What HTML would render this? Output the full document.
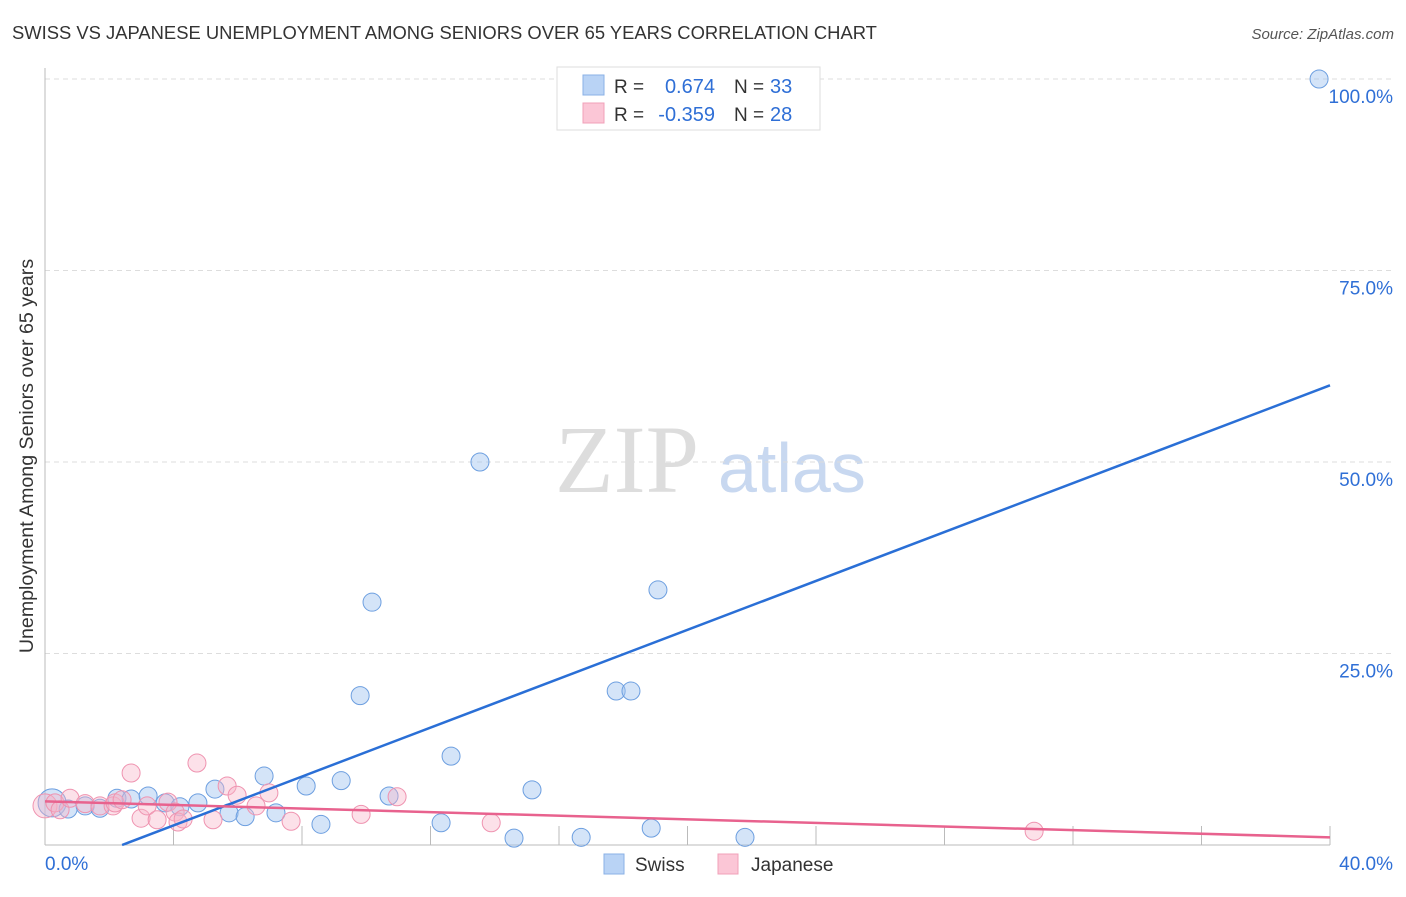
<!DOCTYPE html>
<html><head><meta charset="utf-8"><style>
body{margin:0;background:#fff;width:1406px;height:892px;overflow:hidden;font-family:"Liberation Sans",sans-serif;}
</style></head><body>
<svg id="chart" width="1406" height="892" xmlns="http://www.w3.org/2000/svg">
<text x="12" y="39" font-size="18.4" fill="#333">SWISS VS JAPANESE UNEMPLOYMENT AMONG SENIORS OVER 65 YEARS CORRELATION CHART</text>
<text x="1394" y="39" font-size="15" fill="#555" font-style="italic" text-anchor="end">Source: ZipAtlas.com</text>
<text transform="translate(33,456) rotate(-90)" font-size="19.6" fill="#333" text-anchor="middle">Unemployment Among Seniors over 65 years</text>
<text x="555" y="492" font-size="96" fill="#ddd" font-family="Liberation Serif,serif">ZIP</text>
<text x="718" y="492" font-size="70" fill="#c8d8f0">atlas</text>
<g id="grid"></g><g id="axes"></g><g id="pts"></g><g id="trends"></g>
<g>
<rect x="557" y="67" width="263" height="63" fill="#fff" stroke="#ddd"/>
<rect x="583" y="75" width="21" height="20" fill="#b9d3f5" stroke="#8ab0e6"/>
<rect x="583" y="103" width="21" height="20" fill="#fbc6d6" stroke="#f0a0b8"/>
<text x="614" y="93" font-size="19" fill="#333">R =</text><text x="715" y="93" font-size="20" fill="#2f6fd6" text-anchor="end">0.674</text>
<text x="734" y="93" font-size="19" fill="#333">N =</text><text x="770" y="93" font-size="20" fill="#2f6fd6">33</text>
<text x="614" y="121" font-size="19" fill="#333">R =</text><text x="715" y="121" font-size="20" fill="#2f6fd6" text-anchor="end">-0.359</text>
<text x="734" y="121" font-size="19" fill="#333">N =</text><text x="770" y="121" font-size="20" fill="#2f6fd6">28</text>
</g>
<g>
<rect x="604" y="854" width="20" height="20" fill="#b9d3f5" stroke="#8ab0e6"/>
<text x="635" y="871" font-size="19" fill="#333">Swiss</text>
<rect x="718" y="854" width="20" height="20" fill="#fbc6d6" stroke="#f0a0b8"/>
<text x="751" y="871" font-size="19" fill="#333">Japanese</text>
</g>
</svg>
<script>
const swissX=[0.22,0.72,1.25,1.71,2.24,2.68,3.21,3.74,4.20,4.76,5.29,5.73,6.23,6.82,7.19,8.13,8.59,9.22,9.81,10.18,10.71,12.33,12.64,13.54,14.60,15.16,16.69,17.78,18.24,18.87,19.08,21.79,39.66];
const swissY=[5.5,4.7,5.1,4.8,6.1,6.0,6.4,5.5,5.0,5.5,7.3,4.2,3.7,9.0,4.2,7.7,2.7,8.4,19.5,31.7,6.4,2.9,11.6,50.0,0.9,7.2,1.0,20.1,20.1,2.2,33.3,1.0,100];
const japX=[0,0.31,0.47,0.78,1.25,1.71,2.12,2.18,2.40,2.68,2.99,3.18,3.49,3.83,4.05,4.14,4.30,4.73,5.23,5.67,5.98,6.57,6.97,7.66,9.84,10.96,13.89,30.79];
const japY=[5.1,5.5,4.6,6.1,5.4,5.1,5.1,5.5,5.9,9.4,3.5,5.1,3.3,5.6,4.3,3.0,3.4,10.7,3.3,7.7,6.5,5.1,6.8,3.1,4.0,6.3,2.9,1.8];
const yTicks=[25,50,75,100];
const xTickLabels=["0.0%","40.0%"];
const swissTrend=[-3.83,1.596];
const japTrend=[5.7,-0.1175];
const NS='http://www.w3.org/2000/svg';
const X0=45,X1=1330,Y0=845,Y100=79;
const sx=v=>X0+(X1-X0)*v/40, sy=v=>Y0-(Y0-Y100)*v/100;
function mk(t,a,p){const e=document.createElementNS(NS,t);for(const k in a)e.setAttribute(k,a[k]);document.getElementById(p).appendChild(e);return e;}
yTicks.forEach(t=>{
 const l=mk('line',{x1:X0,x2:1394,y1:sy(t),y2:sy(t),stroke:'#ddd','stroke-dasharray':'5,4'},'grid');
 
 
 const tx=mk('text',{x:1393,y:sy(t)+24,'font-size':19,fill:'#2f6fd6','text-anchor':'end'},'grid');
 tx.textContent=t.toFixed(1)+'%';
 
 
});
let a=mk('line',{x1:X0,x2:X0,y1:68,y2:Y0,stroke:'#bbb'},'axes');


a=mk('line',{x1:X0,x2:X1,y1:Y0,y2:Y0,stroke:'#bbb'},'axes');


for(let v=4;v<=40;v+=4){const t=mk('line',{x1:sx(v),x2:sx(v),y1:Y0,y2:Y0-19,stroke:'#bbb'},'axes');
 
 }
[[0,'start',X0],[40,'end',1393]].forEach((d,i)=>{const t=mk('text',{x:d[2],y:870,'font-size':19,fill:'#2f6fd6','text-anchor':d[1]},'axes');t.textContent=xTickLabels[i];
 
 });
swissX.forEach((x,i)=>{const c=mk('circle',{cx:sx(x),cy:sy(swissY[i]),r:i==0?14:9,fill:'rgba(160,196,240,0.45)',stroke:'#6d9fe0','stroke-width':1},'pts');
 
 });
japX.forEach((x,i)=>{const c=mk('circle',{cx:sx(x),cy:sy(japY[i]),r:i==0?12:9,fill:'rgba(248,180,200,0.4)',stroke:'#ef93b0','stroke-width':1},'pts');
 
 });
const x0s=-swissTrend[0]/swissTrend[1];
let l=mk('line',{x1:sx(x0s),y1:sy(0),x2:sx(40),y2:sy(swissTrend[0]+swissTrend[1]*40),stroke:'#2a6fd6','stroke-width':2.5},'trends');


l=mk('line',{x1:sx(0),y1:sy(japTrend[0]),x2:sx(40),y2:sy(japTrend[0]+japTrend[1]*40),stroke:'#e8628e','stroke-width':2.5},'trends');


</script>
</body></html>
